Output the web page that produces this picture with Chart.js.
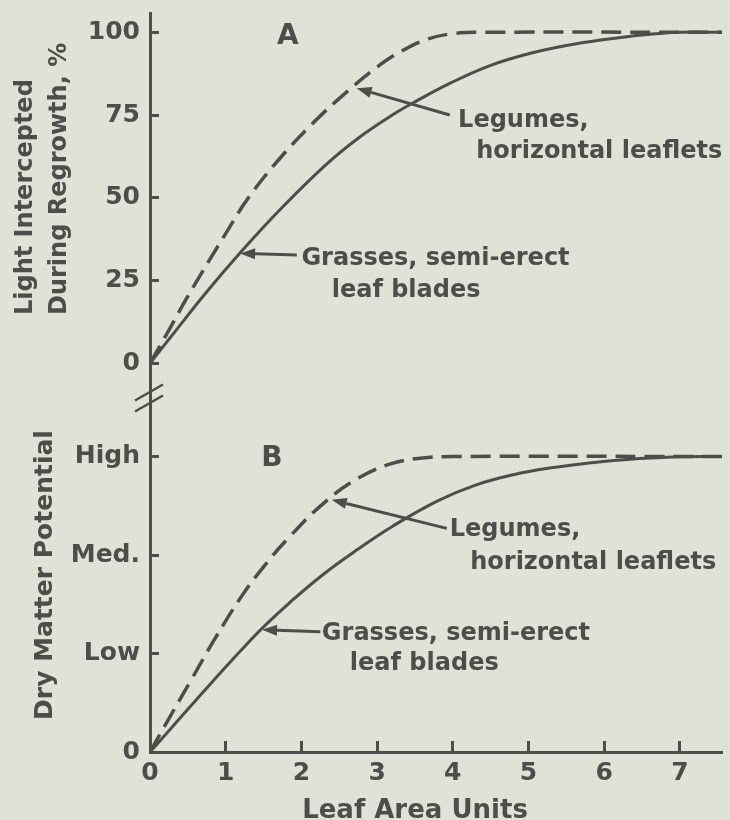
<!DOCTYPE html>
<html>
<head>
<meta charset="utf-8">
<script src="https://cdn.jsdelivr.net/npm/chart.js@4.4.1/dist/chart.umd.min.js"></script>
<style>
  html, body { margin: 0; padding: 0; background: #e0e2d8; }
  #wrap { width: 730px; height: 820px; }
</style>
</head>
<body>
<div id="wrap"><canvas id="leafChart" width="730" height="820"></canvas></div>
<script>
// ===== values =====
const xTicks = [0, 1, 2, 3, 4, 5, 6, 7];
const lightTicks = [0, 25, 50, 75, 100];
const dmTicks = [0, 1, 2, 3];
const dmTickLabels = ["0", "Low", "Med.", "High"];

// A: light intercepted during regrowth, %
const grassLightLai = [0, 0.3, 0.75, 1.2, 1.7, 2.3, 2.75, 3.2, 3.5, 4.0, 4.5, 5.0, 5.5, 6.0, 6.5, 7.0, 7.56];
const grassLight    = [0, 8.7, 21.6, 33.6, 46, 59.5, 68, 75, 79, 85, 90, 93.5, 96, 97.8, 99.2, 100, 100];
const legumeLightLai = [0, 0.25, 0.5, 1.0, 1.3, 1.7, 2.15, 2.6, 3.0, 3.3, 3.65, 4.0, 4.4, 7.56];
const legumeLight    = [0, 10, 20.3, 39.2, 50, 61.5, 72.5, 82, 89.5, 94, 97.8, 99.6, 100, 100];

// B: dry matter potential (0 .. High = 3)
const grassDmLai = [0, 0.3, 0.75, 1.2, 1.5, 1.85, 2.3, 2.75, 3.2, 3.8, 4.3, 4.8, 5.3, 5.8, 6.3, 6.9, 7.56];
const grassDm    = [0, 0.26, 0.65, 1.03, 1.27, 1.52, 1.81, 2.06, 2.29, 2.55, 2.71, 2.815, 2.885, 2.935, 2.97, 2.995, 3.0];
const legumeDmLai = [0, 0.25, 0.55, 0.85, 1.2, 1.5, 1.85, 2.3, 2.75, 3.2, 3.6, 4.0, 7.56];
const legumeDm    = [0, 0.34, 0.74, 1.14, 1.57, 1.88, 2.19, 2.53, 2.78, 2.93, 2.985, 3.0, 3.0];

// ===== look =====
const ink = "#4c4f49";
const family = "'DejaVu Sans', sans-serif";
Chart.defaults.font.family = family;
Chart.defaults.font.weight = "bold";
Chart.defaults.color = ink;

// arrows and captions, placed in data units of each panel
const arrows = [
  { y: "yA", tip: [2.73, 83.1], tail: [3.96, 75.0] },
  { y: "yA", tip: [1.19, 33.2], tail: [1.94, 32.7] },
  { y: "yB", tip: [2.40, 2.56], tail: [3.92, 2.27] },
  { y: "yB", tip: [1.48, 1.24], tail: [2.25, 1.22] }
];
const captions = [
  { y: "yA", text: "A", at: [1.82, 98.6], size: 28, center: true },
  { y: "yA", text: "Legumes,", at: [4.07, 71.4] },
  { y: "yA", text: "horizontal leaflets", at: [4.31, 61.9] },
  { y: "yA", text: "Grasses, semi-erect", at: [2.0, 29.7] },
  { y: "yA", text: "leaf blades", at: [2.40, 20.1] },
  { y: "yB", text: "B", at: [1.61, 2.98], size: 28, center: true },
  { y: "yB", text: "Legumes,", at: [3.96, 2.19] },
  { y: "yB", text: "horizontal leaflets", at: [4.23, 1.86] },
  { y: "yB", text: "Grasses, semi-erect", at: [2.27, 1.137] },
  { y: "yB", text: "leaf blades", at: [2.64, 0.832] }
];
const lightTitle = ["Light Intercepted", "During Regrowth, %"];
const xTitle = "Leaf Area Units";

function pairs(xs, ys) {
  return xs.map((x, i) => ({ x: x, y: ys[i] }));
}

function curve(label, xs, ys, axis, dashed) {
  return {
    label: label,
    data: pairs(xs, ys),
    yAxisID: axis,
    borderColor: ink,
    borderWidth: dashed ? 3.5 : 3,
    borderDash: dashed ? [20, 9] : [],
    tension: 0.4,
    pointRadius: 0,
    fill: false
  };
}

const calloutPlugin = {
  id: "callouts",
  afterDatasetsDraw(chart) {
    const ctx = chart.ctx;
    const xs = chart.scales.x;
    const yA = chart.scales.yA;
    ctx.save();
    ctx.strokeStyle = ink;
    ctx.fillStyle = ink;
    ctx.lineWidth = 3;

    arrows.forEach(a => {
      const ys = chart.scales[a.y];
      const x1 = xs.getPixelForValue(a.tail[0]), y1 = ys.getPixelForValue(a.tail[1]);
      const x2 = xs.getPixelForValue(a.tip[0]), y2 = ys.getPixelForValue(a.tip[1]);
      const ang = Math.atan2(y2 - y1, x2 - x1);
      const head = 15, half = 5.5;
      const bx = x2 - head * Math.cos(ang), by = y2 - head * Math.sin(ang);
      ctx.beginPath();
      ctx.moveTo(x1, y1);
      ctx.lineTo(bx, by);
      ctx.stroke();
      ctx.beginPath();
      ctx.moveTo(x2, y2);
      ctx.lineTo(bx + half * Math.sin(ang), by - half * Math.cos(ang));
      ctx.lineTo(bx - half * Math.sin(ang), by + half * Math.cos(ang));
      ctx.closePath();
      ctx.fill();
    });

    captions.forEach(c => {
      const ys = chart.scales[c.y];
      ctx.font = "bold " + (c.size || 24) + "px " + family;
      ctx.textAlign = c.center ? "center" : "left";
      ctx.textBaseline = c.center ? "middle" : "alphabetic";
      ctx.fillText(c.text, xs.getPixelForValue(c.at[0]), ys.getPixelForValue(c.at[1]));
    });

    // axis titles: the upper one is two lines that start at the same height
    ctx.font = "bold 24px " + family;
    ctx.textBaseline = "middle";
    ctx.textAlign = "left";
    lightTitle.forEach((line, i) => {
      ctx.save();
      ctx.translate(yA.left + 26 + i * 34, yA.bottom - 83);
      ctx.rotate(-Math.PI / 2);
      ctx.fillText(line, 0, 0);
      ctx.restore();
    });
    ctx.font = "bold 26px " + family;
    ctx.textAlign = "center";
    ctx.textBaseline = "alphabetic";
    ctx.fillText(xTitle, xs.left + 265, xs.bottom - 2);

    // break marks between the two panels
    const bx = chart.chartArea.left, by = yA.bottom;
    ctx.lineWidth = 2.5;
    [-5.5, 5.5].forEach(d => {
      ctx.beginPath();
      ctx.moveTo(bx - 15, by + d + 8);
      ctx.lineTo(bx + 13, by + d - 8);
      ctx.stroke();
    });
    ctx.restore();
  }
};

const tickFont = { size: 25, weight: "bold" };

new Chart(document.getElementById("leafChart"), {
  type: "line",
  data: {
    datasets: [
      curve("Grasses, semi-erect leaf blades", grassLightLai, grassLight, "yA", false),
      curve("Legumes, horizontal leaflets", legumeLightLai, legumeLight, "yA", true),
      curve("Grasses, semi-erect leaf blades", grassDmLai, grassDm, "yB", false),
      curve("Legumes, horizontal leaflets", legumeDmLai, legumeDm, "yB", true)
    ]
  },
  options: {
    responsive: false,
    animation: false,
    layout: { padding: { top: 13, right: 8, left: 0, bottom: 0 } },
    plugins: {
      legend: { display: false },
      tooltip: { enabled: false }
    },
    scales: {
      x: {
        type: "linear",
        min: 0,
        max: 7.556,
        afterBuildTicks: s => { s.ticks = xTicks.map(v => ({ value: v })); },
        afterFit: s => { s.height = 68; s.paddingLeft = 0; s.paddingRight = 0; },
        border: { color: ink, width: 3 },
        grid: { drawOnChartArea: false, tickLength: -11, tickWidth: 3, color: ink },
        ticks: { padding: 17, maxRotation: 0, autoSkip: false, font: tickFont, color: ink }
      },
      yB: {
        type: "linear",
        position: "left",
        stack: "panels",
        stackWeight: 354,
        min: 0,
        max: 3.594,
        afterBuildTicks: s => { s.ticks = dmTicks.map(v => ({ value: v })); },
        afterFit: s => { s.width = 150; s.paddingTop = 0; s.paddingBottom = 0; },
        border: { color: ink, width: 3 },
        grid: { drawOnChartArea: false, tickLength: -9, tickWidth: 3, color: ink },
        ticks: {
          padding: 19,
          font: tickFont,
          color: ink,
          callback: v => dmTickLabels[dmTicks.indexOf(v)]
        },
        title: {
          display: true,
          text: "Dry Matter Potential",
          color: ink,
          font: { size: 25, weight: "bold", lineHeight: 1.4 },
          padding: { top: 28, bottom: 0 }
        }
      },
      yA: {
        type: "linear",
        position: "left",
        stack: "panels",
        stackWeight: 385,
        min: -10.48,
        max: 105.83,
        afterBuildTicks: s => { s.ticks = lightTicks.map(v => ({ value: v })); },
        afterFit: s => { s.width = 150; s.paddingTop = 0; s.paddingBottom = 0; },
        border: { color: ink, width: 3 },
        grid: { drawOnChartArea: false, tickLength: -9, tickWidth: 3, color: ink },
        ticks: { padding: 19, font: tickFont, color: ink }
      }
    }
  },
  plugins: [calloutPlugin]
});
</script>
</body>
</html>
